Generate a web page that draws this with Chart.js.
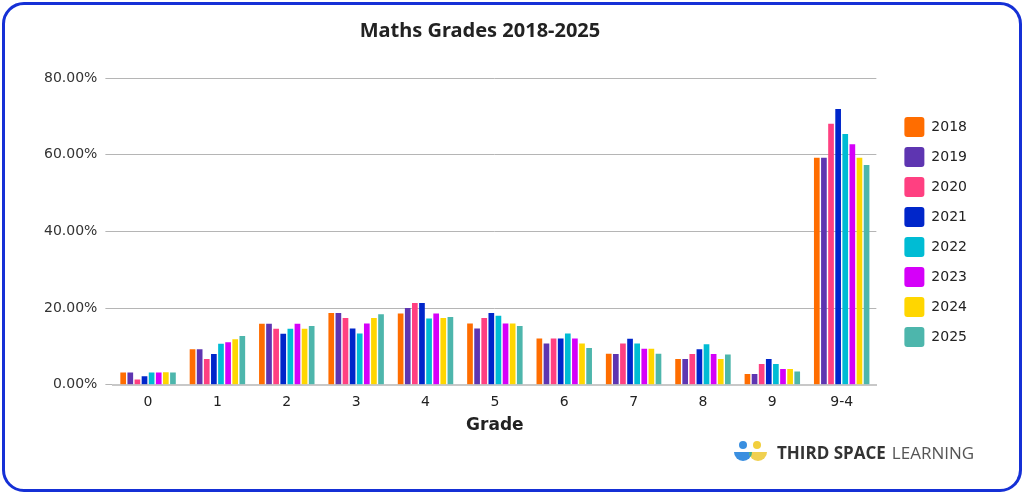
<!DOCTYPE html>
<html>
<head>
<meta charset="utf-8">
<script src="https://cdn.jsdelivr.net/npm/chart.js@4.4.1/dist/chart.umd.min.js"></script>
<style>
  html, body { margin: 0; padding: 0; background: #ffffff; }
  #frame { position: absolute; left: 2px; top: 2px; width: 1014px; height: 484px;
           border: 3px solid #1530d6; border-radius: 22px; background: #fff; }
  #wrap { position: absolute; left: 0; top: 0; width: 1024px; height: 494px; }
  #logo { position: absolute; left: 733px; top: 438px; height: 28px; display: flex; align-items: center;
          font-family: "Open Sans", "Noto Sans", sans-serif; font-size: 17px; color: #333; letter-spacing: 0px; }
  #logo b { font-weight: 700; margin-left: 8px; }
  #logo span { font-weight: 400; color: #555; margin-left: 6px; }
</style>
</head>
<body>
<div id="frame"></div>
<div id="wrap"><canvas id="c" width="1024" height="494"></canvas></div>
<div id="logo">
  <svg width="36" height="26" viewBox="0 0 36 26">
    <circle cx="10" cy="6" r="4" fill="#3a8fe0"/>
    <circle cx="24" cy="6" r="4" fill="#f2cf3c"/>
    <path d="M1 13 A9 9 0 0 0 19 13 Z" fill="#3a8fe0"/>
    <path d="M16 13 A9 9 0 0 0 34 13 Z" fill="#f0d050"/>
    <path d="M16 13 L19 13 A9 9 0 0 1 17.5 18 A9 9 0 0 1 16 13 Z" fill="#3fae8c"/>
  </svg>
  <b>THIRD SPACE</b><span>LEARNING</span>
</div>
<script>
const chartTitle = "Maths Grades 2018-2025";
const categories = ["0", "1", "2", "3", "4", "5", "6", "7", "8", "9", "9-4"];
const years = ["2018", "2019", "2020", "2021", "2022", "2023", "2024", "2025"];
const v2018 = [3.2, 9.3, 15.9, 18.7, 18.6, 16.0, 12.1, 8.1, 6.7, 2.8, 59.2];
const v2019 = [3.2, 9.3, 15.9, 18.7, 20.0, 14.7, 10.8, 8.0, 6.7, 2.8, 59.2];
const v2020 = [1.4, 6.7, 14.6, 17.4, 21.3, 17.4, 12.1, 10.8, 8.0, 5.4, 68.1];
const v2021 = [2.2, 8.0, 13.3, 14.7, 21.3, 18.7, 12.1, 12.0, 9.3, 6.7, 71.9];
const v2022 = [3.2, 10.7, 14.6, 13.4, 17.3, 18.0, 13.4, 10.8, 10.6, 5.4, 65.4];
const v2023 = [3.2, 11.1, 15.9, 16.0, 18.6, 16.0, 12.1, 9.4, 8.0, 4.1, 62.7];
const v2024 = [3.3, 11.9, 14.6, 17.4, 17.4, 16.0, 10.8, 9.4, 6.7, 4.1, 59.2];
const v2025 = [3.2, 12.7, 15.3, 18.4, 17.7, 15.3, 9.6, 8.1, 7.9, 3.5, 57.3];
const yTicks = [0, 20, 40, 60, 80];

const series = [v2018, v2019, v2020, v2021, v2022, v2023, v2024, v2025];
const colors = ["#ff6d00", "#5e35b1", "#ff4081", "#0026ca", "#00bcd4", "#d500f9", "#ffd600", "#4db6ac"];

const titlePlugin = {
  id: "fixedTitle",
  afterDraw(chart) {
    const ctx = chart.ctx;
    ctx.save();
    ctx.font = "bold 20px 'Noto Sans'";
    ctx.fillStyle = "#222";
    ctx.textAlign = "center";
    ctx.textBaseline = "middle";
    ctx.fillText(chartTitle, 480, 31);
    ctx.restore();
  }
};
const legendShift = {
  id: "legendShift",
  afterLayout(chart) {
    const l = chart.legend;
    if (l) { l.left += 18; l.right += 18; l.top -= 27; l.bottom -= 27; }
  }
};

new Chart(document.getElementById("c"), {
  type: "bar",
  data: {
    labels: categories,
    datasets: years.map((y, i) => ({
      label: y, data: series[i], backgroundColor: colors[i], borderWidth: 0,
      categoryPercentage: 0.82, barPercentage: 0.8
    }))
  },
  options: {
    responsive: false, animation: false,
    layout: { padding: { left: 36, right: 65, top: 78, bottom: 54 } },
    plugins: {
      title: { display: false },
      legend: { position: "right", align: "center",
                labels: { boxWidth: 20, boxHeight: 20, padding: 10, color: "#222", useBorderRadius: true, borderRadius: 3,
                          font: { family: "DejaVu Sans", size: 14 } } },
      tooltip: { enabled: false }
    },
    scales: {
      x: {
        grid: { display: false }, border: { display: true, color: "#c8c8c8", width: 2 },
        ticks: { color: "#222", font: { family: "DejaVu Sans", size: 14 }, padding: 1 },
        title: { display: true, text: "Grade", color: "#222", font: { family: "DejaVu Sans", size: 17, weight: "bold" }, padding: { top: 4 } }
      },
      y: {
        min: 0, max: 80,
        afterBuildTicks: (s) => { s.ticks = yTicks.map(v => ({ value: v })); },
        grid: { color: "#b5b5b5", lineWidth: 1, tickLength: 8 }, border: { display: false },
        ticks: { color: "#333", font: { family: "DejaVu Sans", size: 14 }, padding: 8,
                 callback: (v) => v.toFixed(2) + "%" }
      }
    }
  },
  plugins: [titlePlugin, legendShift]
});
</script>
</body>
</html>
